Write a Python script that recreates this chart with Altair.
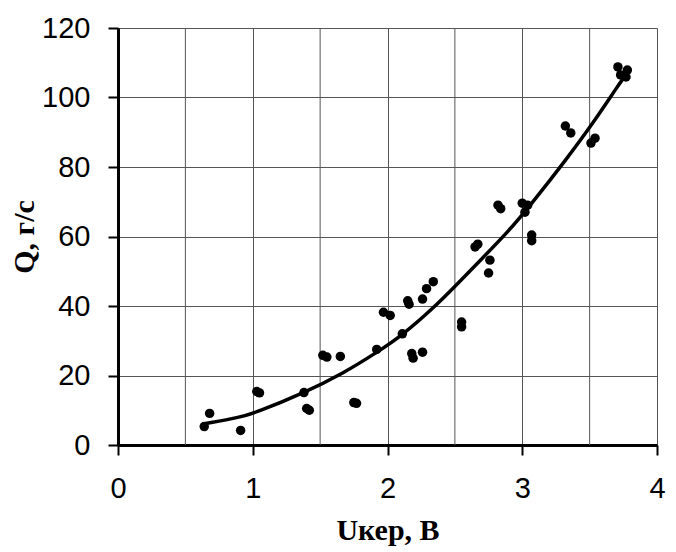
import altair as alt
import pandas as pd

# Measured points (U, Q)
u_pts = [0.64, 0.68, 0.91, 1.03, 1.05, 1.38, 1.40, 1.42, 1.52, 1.55, 1.65, 1.75, 1.77,
         1.92, 1.97, 2.02, 2.11, 2.15, 2.16, 2.18, 2.19, 2.26, 2.26, 2.29, 2.34,
         2.55, 2.55, 2.65, 2.67, 2.75, 2.76, 2.82, 2.84, 3.00, 3.04, 3.02, 3.07, 3.07,
         3.32, 3.36, 3.51, 3.54, 3.71, 3.73, 3.78, 3.77]
q_pts = [5.3, 9.1, 4.2, 15.4, 15.0, 15.1, 10.5, 10.0, 25.8, 25.3, 25.5, 12.2, 12.0,
         27.5, 38.2, 37.3, 32.0, 41.5, 40.5, 26.3, 25.0, 26.7, 42.0, 45.0, 47.0,
         35.4, 34.0, 57.0, 57.8, 49.5, 53.2, 69.0, 68.0, 69.6, 69.0, 67.0, 60.4, 58.8,
         91.8, 89.8, 86.9, 88.3, 108.8, 106.5, 107.9, 105.9]

# Trend curve
u_fit = [0.65, 0.90, 1.03, 1.38, 1.67, 1.92, 2.11, 2.34, 2.50, 2.69, 2.91, 3.06, 3.32, 3.55, 3.71, 3.76]
q_fit = [6.2, 7.9, 9.4, 15.0, 20.6, 26.6, 31.6, 39.4, 45.6, 53.2, 62.0, 69.0, 81.8, 94.0, 103.4, 106.0]

pts = pd.DataFrame({"U": u_pts, "Q": q_pts})
fit = pd.DataFrame({"U": u_fit, "Q": q_fit})

xscale = alt.Scale(domain=[0, 4], nice=False)
yscale = alt.Scale(domain=[0, 120], nice=False)

xaxis = alt.Axis(values=[0, 1, 2, 3, 4], title="Uкер, В", format="d", labelFlush=False,
                 gridColor="#555555", gridWidth=1, domainColor="black", domainWidth=3,
                 tickColor="black", tickWidth=2, tickSize=10, labelPadding=19,
                 labelFont="Liberation Sans", labelFontSize=29, labelColor="black",
                 titleFont="Liberation Serif", titleFontSize=30, titleFontWeight="bold",
                 titleColor="black", titlePadding=12)
yaxis = alt.Axis(values=[0, 20, 40, 60, 80, 100, 120], title="Q, г/с", format="d", labelFlush=False,
                 gridColor="#555555", gridWidth=1, domainColor="black", domainWidth=3,
                 tickColor="black", tickWidth=2, tickSize=10, labelPadding=18,
                 labelFont="Liberation Sans", labelFontSize=29, labelColor="black",
                 titleFont="Liberation Serif", titleFontSize=30, titleFontWeight="bold",
                 titleColor="black", titlePadding=2)

grid_x = [0.5, 1.5, 2.5, 3.5]
gx = alt.Chart(pd.DataFrame({"U": grid_x})).mark_rule(color="#555555", strokeWidth=1).encode(
    x=alt.X("U:Q", scale=xscale, axis=xaxis))

points = alt.Chart(pts).mark_circle(size=90, color="black", opacity=1).encode(
    x=alt.X("U:Q", scale=xscale, axis=xaxis),
    y=alt.Y("Q:Q", scale=yscale, axis=yaxis))

line = alt.Chart(fit).mark_line(color="black", strokeWidth=3.5, interpolate="basis").encode(
    x=alt.X("U:Q", scale=xscale),
    y=alt.Y("Q:Q", scale=yscale))

chart = alt.layer(gx, points, line).properties(
    width=539, height=417,
    autosize=alt.AutoSizeParams(type="none"),
    padding={"left": 118, "top": 28, "right": 19, "bottom": 107},
).configure_view(stroke=None).configure(background="white")

chart.save("out.html", embed_options={"renderer": "svg", "actions": False})
